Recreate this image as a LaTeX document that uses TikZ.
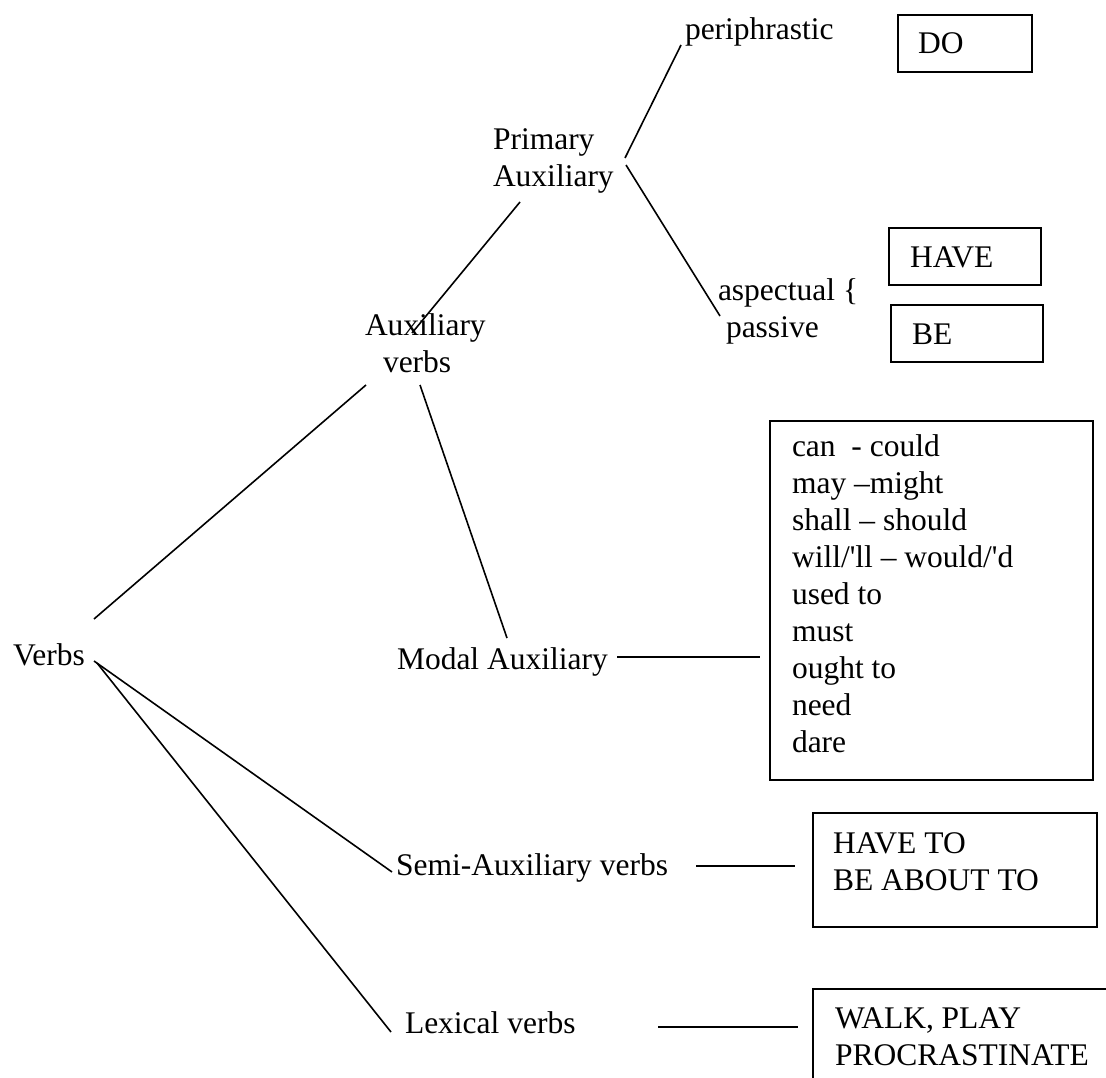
\documentclass[tikz,border=0pt]{standalone}
\usepackage{fontspec}
\setmainfont{Liberation Serif}[Ligatures=TeXOff]
\usetikzlibrary{calc}
\begin{document}
\begin{tikzpicture}[x=1pt,y=-1pt,
  every node/.style={font=\fontsize{31.5pt}{37pt}\selectfont, inner sep=0pt, outer sep=0pt},
  lbl/.style={anchor=base west, align=left},
  wordbox/.style={draw, line width=1.6pt, rectangle, anchor=north west},
  link/.style={line width=1.6pt}]
\useasboundingbox (0,0) rectangle (1106,1078);

% category labels (multi-line labels are placed by their last baseline)
\node[lbl] (verbs)  at (13,665)  {Verbs};
\node[lbl] (auxv)   at (365,372) {Auxiliary\\\hspace*{18pt}verbs};
\node[lbl] (prim)   at (493,187) {Primary\\Auxiliary};
\node[lbl] (peri)   at (685,40)  {periphrastic};
\node[lbl] (asp)    at (718,337) {aspectual \{\\\hspace*{8pt}passive};
\node[lbl] (modal)  at (397,669) {Modal Auxiliary};
\node[lbl] (semi)   at (396,875) {Semi-Auxiliary verbs};
\node[lbl] (lex)    at (405,1033) {Lexical verbs};

% example boxes
\node[wordbox, minimum width=134pt, minimum height=57pt] (dobox)   at (898,15)  {};
\node[lbl] (dotext) at (918,54) {DO};
\node[wordbox, minimum width=152pt, minimum height=57pt] (havebox) at (889,228) {};
\node[lbl] (havetext) at (910,267) {HAVE};
\node[wordbox, minimum width=152pt, minimum height=57pt] (bebox)   at (891,305) {};
\node[lbl] (betext) at (912,344) {BE};

\node[wordbox, minimum width=323pt, minimum height=359pt] (list) at (770,421) {};
\node[lbl, font=\fontsize{31.5pt}{36.9pt}\selectfont] (listtext) at (792,752)
  {can\ \ - could\\may –might\\shall – should\\will/'ll – would/'d\\used to\\must\\ought to\\need\\dare};

\node[wordbox, minimum width=284pt, minimum height=114pt] (semibox) at (813,813) {};
\node[lbl] (semitext) at (833,890) {HAVE TO\\BE ABOUT TO};

\begin{scope}
  \clip (0,0) rectangle (1106,1078);
  \node[wordbox, minimum width=320pt, minimum height=120pt] (lexbox) at (813,989) {};
\end{scope}
\node[lbl] (lextext) at (835,1065) {WALK, PLAY\\PROCRASTINATE};

% tree branches
\draw[link] ($(verbs.base west)+(81,-46)$) -- ($(auxv.base west)+(1,13)$);
\draw[link] ($(verbs.base west)+(81,-4)$)  -- ($(semi.base west)+(-4,-3)$);
\draw[link] ($(verbs.base west)+(84,-2)$)  -- ($(lex.base west)+(-14,-1)$);
\draw[link] ($(auxv.base west)+(55,13)$)   -- ($(modal.base west)+(110,-31)$);
\draw[link] ($(auxv.base west)+(47,-39)$)  -- ($(prim.base west)+(27,15)$);
\draw[link] ($(prim.base west)+(132,-29)$) -- ($(peri.base west)+(-4,5)$);
\draw[link] ($(prim.base west)+(133,-22)$) -- ($(asp.base west)+(2,-21)$);

% links to the example boxes
\draw[link] ($(modal.base west)+(220,-12)$) coordinate (m1) -- ([xshift=-10pt]m1 -| list.west);
\draw[link] ($(semi.base west)+(300,-9)$) coordinate (s1) -- ([xshift=-18pt]s1 -| semibox.west);
\draw[link] ($(lex.base west)+(253,-6)$) coordinate (l1) -- ([xshift=-15pt]l1 -| lexbox.west);
\end{tikzpicture}
\end{document}
